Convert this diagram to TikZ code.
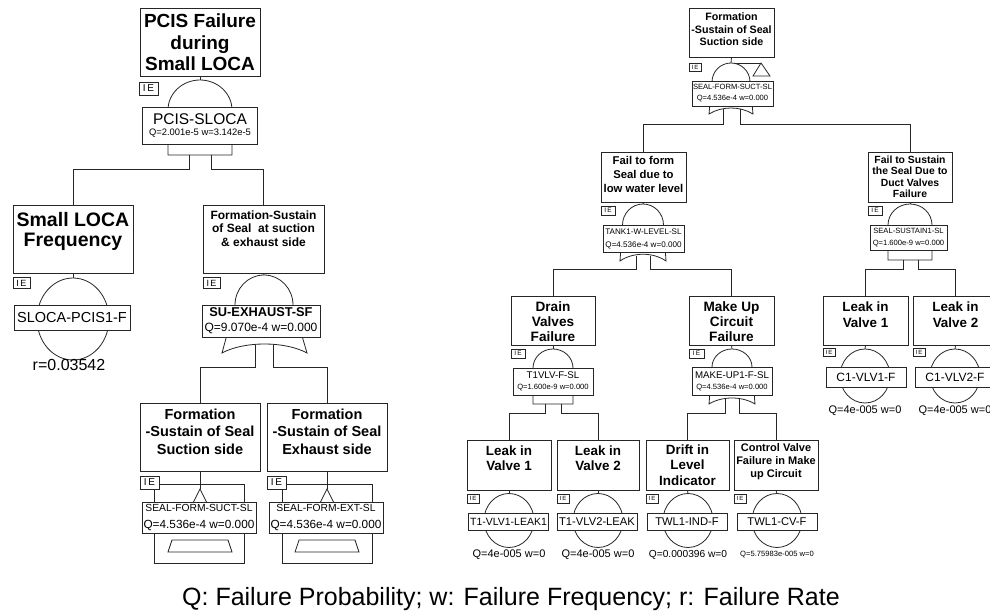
\documentclass[tikz,border=0pt]{standalone}
\usepackage{fontspec}
\setmainfont{Liberation Sans}
\usetikzlibrary{positioning}

\begin{document}
\begin{tikzpicture}[
			x=1pt, y=-1pt,
			evbox/.style={draw=black!85, line width=0.9pt, inner sep=0pt},
			ttl/.style={align=center, inner sep=0pt},
			idbox/.style={draw=black!85, line width=0.9pt, fill=white, align=center, inner sep=0pt},
			iebox/.style={draw=black!85, line width=0.7pt, fill=white, inner sep=0pt},
			gate/.style={draw=black!85, line width=0.8pt, fill=white},
			link/.style={draw=black!85, line width=0.8pt},
			qtext/.style={inner sep=0pt}
			]
			\useasboundingbox (0,0) rectangle (990,612);
			\clip (0,0) rectangle (990,612);
			
			% ---- Left tree: boxes ----
			\node[evbox, minimum width=120, minimum height=68] (pcis) at (200,42) {};
			\node[evbox, minimum width=120, minimum height=68] (slf) at (73,239) {};
			\node[evbox, minimum width=121, minimum height=68] (fss) at (263.5,239) {};
			\node[evbox, minimum width=120, minimum height=68] (fsuct) at (200,437) {};
			\node[evbox, minimum width=120, minimum height=68] (fexh) at (327,437) {};
			
			\node[ttl, font=\bfseries\fontsize{19}{21.7}\selectfont, below=6pt of pcis.north] (pcistx)
			{PCIS Failure\\during\\Small LOCA};
			\node[ttl, font=\bfseries\fontsize{19.5}{20}\selectfont, below=8pt of slf.north] (slftx)
			{Small LOCA\\Frequency};
			\node[ttl, font=\bfseries\fontsize{12}{13.3}\selectfont, below=6pt of fss.north] (fsstx)
			{Formation-Sustain\\of Seal\ \ at suction\\\& exhaust side};
			\node[ttl, font=\bfseries\fontsize{14.5}{17.5}\selectfont, below=6pt of fsuct.north] (fsucttx)
			{Formation\\-Sustain of Seal\\Suction side};
			\node[ttl, font=\bfseries\fontsize{14.5}{17.5}\selectfont, below=6pt of fexh.north] (fexhtx)
			{Formation\\-Sustain of Seal\\Exhaust side};
			
			% ---- Left tree: gates ----
			\coordinate (pcisg) at (200,80);
			\coordinate (slfg) at (73,278);
			\coordinate (fssg) at (264,275);
			\coordinate (fsuctg) at (200,489);
			\coordinate (fexhg) at (327,489);
			\draw[link] (pcis.south) -- (pcisg);
			\draw[link] (slf.south) -- (slfg);
			\draw[link] (fss.south) -- (fssg);
			\draw[link] (fsuct.south) -- (fsuctg);
			\draw[link] (fexh.south) -- (fexhg);
			
			\draw[gate] (168,155) -- (168,110) arc[start angle=180, end angle=360, x radius=32, y radius=30] -- (232,155) -- cycle;
			\draw[gate] (73,319) ellipse[x radius=36, y radius=41];
			\draw[gate] (222,353) -- (235,305) arc[start angle=180, end angle=360, x radius=29, y radius=30]
			-- (307,353) .. controls (285,341) and (244,341) .. (222,353) -- cycle;
			\draw[link] (154,484) rectangle (244,563);
			\draw[gate] (fsuctg) -- (193,503) -- (207,503) -- cycle;
			\draw[gate] (172,540) -- (228,540) -- (232,552) -- (168,552) -- cycle;
			\draw[link] (282,484) rectangle (372,563);
			\draw[gate] (fexhg) -- (320,503) -- (334,503) -- cycle;
			\draw[gate] (299,540) -- (355,540) -- (359,552) -- (295,552) -- cycle;
			
			% ---- Left tree: ids ----
			\node[idbox, minimum width=115, minimum height=37, font=\fontsize{9.4}{11}\selectfont] (pcisid) at (200,125.5)
			{{\fontsize{15.5}{16}\selectfont PCIS-SLOCA}\\Q=2.001e-5 w=3.142e-5};
			\node[idbox, minimum width=116, minimum height=25, font=\fontsize{14.5}{15}\selectfont] (slfid) at (72,317.5)
			{SLOCA-PCIS1-F};
			\node[idbox, minimum width=118, minimum height=32, font=\fontsize{12}{15}\selectfont] (fssid) at (261,321)
			{{\bfseries\fontsize{12.8}{13}\selectfont SU-EXHAUST-SF}\\Q=9.070e-4 w=0.000};
			\node[idbox, minimum width=114, minimum height=31, font=\fontsize{11.8}{17}\selectfont] (fsuctid) at (199,517.5)
			{{\fontsize{10.3}{11}\selectfont SEAL-FORM-SUCT-SL}\\Q=4.536e-4 w=0.000};
			\node[idbox, minimum width=114, minimum height=31, font=\fontsize{11.8}{17}\selectfont] (fexhid) at (326,517.5)
			{{\fontsize{10.3}{11}\selectfont SEAL-FORM-EXT-SL}\\Q=4.536e-4 w=0.000};
			\node[qtext, font=\fontsize{16}{16}\selectfont] (slfq) at (69,365) {r=0.03542};
			
			\node[iebox, minimum width=19, minimum height=13, font=\fontsize{10}{10}\selectfont] (pcisie) at (148.5,88.5) {I\,E};
			\node[iebox, minimum width=17, minimum height=11, font=\fontsize{9}{9}\selectfont] (slfie) at (21.5,283) {I\,E};
			\node[iebox, minimum width=17, minimum height=11, font=\fontsize{9}{9}\selectfont] (fssie) at (211.5,283) {I\,E};
			\node[iebox, minimum width=19, minimum height=13, font=\fontsize{10}{10}\selectfont] (fsuctie) at (149.5,482.5) {I\,E};
			\node[iebox, minimum width=19, minimum height=13, font=\fontsize{10}{10}\selectfont] (fexhie) at (276.5,482.5) {I\,E};
			
			% ---- Left tree: connectors ----
			\coordinate (pcisa) at (189,155);
			\coordinate (pcisb) at (211,155);
			\coordinate (fssa) at (255,345);
			\coordinate (fssb) at (273,345);
			\draw[link] (pcisa) -- ++(0,14) -| (slf.north);
			\draw[link] (pcisb) -- ++(0,14) -| (fss.north);
			\draw[link] (fssa) -- ++(0,22) -| (fsuct.north);
			\draw[link] (fssb) -- ++(0,22) -| (fexh.north);
			
			% ---- Right tree: boxes ----
			\node[evbox, minimum width=85, minimum height=49] (rtop) at (731.5,32.5) {};
			\node[evbox, minimum width=85, minimum height=50] (ffw) at (643.5,177) {};
			\node[evbox, minimum width=84, minimum height=50] (fsd) at (910,177) {};
			\node[evbox, minimum width=84, minimum height=49] (drain) at (553,320.5) {};
			\node[evbox, minimum width=85, minimum height=49] (makeup) at (731.5,320.5) {};
			\node[evbox, minimum width=85, minimum height=49] (lv1r) at (865.5,320.5) {};
			\node[evbox, minimum width=85, minimum height=49] (lv2r) at (955.5,320.5) {};
			\node[evbox, minimum width=84, minimum height=50] (lv1b) at (509,465) {};
			\node[evbox, minimum width=82, minimum height=50] (lv2b) at (598,465) {};
			\node[evbox, minimum width=83, minimum height=50] (drift) at (687.5,465) {};
			\node[evbox, minimum width=84, minimum height=50] (cv) at (776,465) {};
			
			\node[ttl, font=\bfseries\fontsize{10.7}{12.7}\selectfont, below=5pt of rtop.north] (rtoptx)
			{Formation\\-Sustain of Seal\\Suction side};
			\node[ttl, font=\bfseries\fontsize{11.3}{14}\selectfont, below=5pt of ffw.north] (ffwtx)
			{Fail to form\\Seal due to\\low water level};
			\node[ttl, font=\bfseries\fontsize{10.4}{11.5}\selectfont, below=4pt of fsd.north] (fsdtx)
			{Fail to Sustain\\the Seal Due to\\Duct Valves\\Failure};
			\node[ttl, font=\bfseries\fontsize{13.6}{15}\selectfont, below=6pt of drain.north] (draintx)
			{Drain\\Valves\\Failure};
			\node[ttl, font=\bfseries\fontsize{13.6}{15}\selectfont, below=6pt of makeup.north] (makeuptx)
			{Make Up\\Circuit\\Failure};
			\node[ttl, font=\bfseries\fontsize{13.4}{16}\selectfont, below=6pt of lv1r.north] (lv1rtx)
			{Leak in\\Valve 1};
			\node[ttl, font=\bfseries\fontsize{13.4}{16}\selectfont, below=6pt of lv2r.north] (lv2rtx)
			{Leak in\\Valve 2};
			\node[ttl, font=\bfseries\fontsize{13.4}{15}\selectfont, below=6pt of lv1b.north] (lv1btx)
			{Leak in\\Valve 1};
			\node[ttl, font=\bfseries\fontsize{13.4}{15}\selectfont, below=6pt of lv2b.north] (lv2btx)
			{Leak in\\Valve 2};
			\node[ttl, font=\bfseries\fontsize{13.4}{15.5}\selectfont, below=5pt of drift.north] (drifttx)
			{Drift in\\Level\\Indicator};
			\node[ttl, font=\bfseries\fontsize{11}{13}\selectfont, below=4pt of cv.north] (cvtx)
			{Control Valve\\Failure in Make\\up Circuit};
			
			% ---- Right tree: gates ----
			\coordinate (rtopg) at (731,63);
			\coordinate (rtopt) at (761,63);
			\coordinate (ffwg) at (643,204);
			\coordinate (fsdg) at (910,204);
			\coordinate (draing) at (553,349);
			\coordinate (makeupg) at (732,349);
			\coordinate (lv1rg) at (865,349);
			\coordinate (lv2rg) at (955,349);
			\coordinate (lv1bg) at (509,493.5);
			\coordinate (lv2bg) at (598,493.5);
			\coordinate (driftg) at (688,493.5);
			\coordinate (cvg) at (777,493.5);
			\foreach \n in {rtop,ffw,fsd,drain,makeup,lv1r,lv2r,lv1b,lv2b,drift,cv}
			\draw[link] (\n.south) -- (\n g);
			\draw[link] (rtopg) -- (rtopt);
			
			\draw[gate] (709,114) -- (712,82) arc[start angle=180, end angle=360, x radius=19, y radius=19]
			-- (753,114) .. controls (740,106) and (722,106) .. (709,114) -- cycle;
			\draw[gate] (rtopt) -- (770,76) -- (753,76) -- cycle;
			\draw[gate] (620,261) -- (622.5,225) arc[start angle=180, end angle=360, x radius=20.5, y radius=21]
			-- (666,261) .. controls (653,252) and (633,252) .. (620,261) -- cycle;
			\draw[gate] (888,260) -- (888,225) arc[start angle=180, end angle=360, x radius=22, y radius=21] -- (932,260) -- cycle;
			\draw[gate] (533,404) -- (533,368) arc[start angle=180, end angle=360, x radius=20, y radius=19] -- (573,404) -- cycle;
			\draw[gate] (709,404) -- (712,367) arc[start angle=180, end angle=360, x radius=20, y radius=18]
			-- (755,404) .. controls (742,396) and (722,396) .. (709,404) -- cycle;
			\draw[gate] (865,376) ellipse[x radius=25, y radius=27];
			\draw[gate] (955,376) ellipse[x radius=25, y radius=27];
			\foreach \cx in {509,598,688,777}
			\draw[gate] (\cx,520.5) ellipse[x radius=25, y radius=27];
			
			% ---- Right tree: ids ----
			\node[idbox, minimum width=81, minimum height=25, font=\fontsize{7.6}{11}\selectfont] (rtopid) at (732.5,93.5)
			{SEAL-FORM-SUCT-SL\\Q=4.536e-4 w=0.000};
			\node[idbox, minimum width=81, minimum height=27, font=\fontsize{8.1}{13}\selectfont] (ffwid) at (643.5,238.5)
			{TANK1-W-LEVEL-SL\\Q=4.536e-4 w=0.000};
			\node[idbox, minimum width=77, minimum height=25, font=\fontsize{7.6}{12}\selectfont] (fsdid) at (908.5,237.5)
			{SEAL-SUSTAIN1-SL\\Q=1.600e-9 w=0.000};
			\node[idbox, minimum width=80, minimum height=27, font=\fontsize{7.6}{11}\selectfont] (drainid) at (553,381.5)
			{{\fontsize{9.7}{10}\selectfont T1VLV-F-SL}\\Q=1.600e-9 w=0.000};
			\node[idbox, minimum width=80, minimum height=28, font=\fontsize{7.6}{11}\selectfont] (makeupid) at (732,381)
			{{\fontsize{9.7}{10}\selectfont MAKE-UP1-F-SL}\\Q=4.536e-4 w=0.000};
			\node[idbox, minimum width=80, minimum height=20, font=\fontsize{12}{12}\selectfont] (lv1rid) at (866,377) {C1-VLV1-F};
			\node[idbox, minimum width=80, minimum height=20, font=\fontsize{12}{12}\selectfont] (lv2rid) at (955,377) {C1-VLV2-F};
			\node[idbox, minimum width=80, minimum height=17, font=\fontsize{10.5}{11}\selectfont] (lv1bid) at (508.5,521.5) {T1-VLV1-LEAK1};
			\node[idbox, minimum width=80, minimum height=17, font=\fontsize{11.2}{11}\selectfont] (lv2bid) at (597,521.5) {T1-VLV2-LEAK};
			\node[idbox, minimum width=80, minimum height=17, font=\fontsize{11.2}{11}\selectfont] (driftid) at (687,521.5) {TWL1-IND-F};
			\node[idbox, minimum width=80, minimum height=17, font=\fontsize{11.2}{11}\selectfont] (cvid) at (777,521.5) {TWL1-CV-F};
			
			\node[qtext, font=\fontsize{11}{11}\selectfont] (lv1rq) at (865,411) {Q=4e-005 w=0};
			\node[qtext, font=\fontsize{11}{11}\selectfont] (lv2rq) at (955,411) {Q=4e-005 w=0};
			\node[qtext, font=\fontsize{11}{11}\selectfont] (lv1bq) at (509,555) {Q=4e-005 w=0};
			\node[qtext, font=\fontsize{11}{11}\selectfont] (lv2bq) at (598,555) {Q=4e-005 w=0};
			\node[qtext, font=\fontsize{10.2}{11}\selectfont] (driftq) at (688,555) {Q=0.000396 w=0};
			\node[qtext, font=\fontsize{7.6}{8}\selectfont] (cvq) at (777,555) {Q=5.75983e-005 w=0};
			
			\node[iebox, minimum width=12, minimum height=8, font=\fontsize{6}{6}\selectfont] (rtopie) at (695,67) {I\,E};
			\node[iebox, minimum width=14, minimum height=9, font=\fontsize{6.5}{6.5}\selectfont] (ffwie) at (608,210.5) {I\,E};
			\node[iebox, minimum width=14, minimum height=9, font=\fontsize{6.5}{6.5}\selectfont] (fsdie) at (875,210.5) {I\,E};
			\node[iebox, minimum width=14, minimum height=9, font=\fontsize{6.5}{6.5}\selectfont] (drainie) at (518,353.5) {I\,E};
			\node[iebox, minimum width=15, minimum height=9, font=\fontsize{6.5}{6.5}\selectfont] (makeupie) at (696.5,353.5) {I\,E};
			\node[iebox, minimum width=12, minimum height=8, font=\fontsize{6}{6}\selectfont] (lv1rie) at (829,352) {I\,E};
			\node[iebox, minimum width=12, minimum height=8, font=\fontsize{6}{6}\selectfont] (lv2rie) at (919,352) {I\,E};
			\node[iebox, minimum width=12, minimum height=9, font=\fontsize{6}{6}\selectfont] (lv1bie) at (473,498.5) {I\,E};
			\node[iebox, minimum width=12, minimum height=9, font=\fontsize{6}{6}\selectfont] (lv2bie) at (563,498.5) {I\,E};
			\node[iebox, minimum width=12, minimum height=9, font=\fontsize{6}{6}\selectfont] (driftie) at (652,498.5) {I\,E};
			\node[iebox, minimum width=12, minimum height=9, font=\fontsize{6}{6}\selectfont] (cvie) at (740,498.5) {I\,E};
			
			% ---- Right tree: connectors ----
			\coordinate (rtopa) at (723,109);
			\coordinate (rtopb) at (740,109);
			\coordinate (ffwa) at (636,256);
			\coordinate (ffwb) at (650,256);
			\coordinate (fsda) at (903,260);
			\coordinate (fsdb) at (918,260);
			\coordinate (draina) at (545,404);
			\coordinate (drainb) at (561,404);
			\coordinate (makeupa) at (725,399);
			\coordinate (makeupb) at (739,399);
			\draw[link] (rtopa) -- ++(0,15) -| (ffw.north);
			\draw[link] (rtopb) -- ++(0,15) -| (fsd.north);
			\draw[link] (ffwa) -- ++(0,13) -| (drain.north);
			\draw[link] (ffwb) -- ++(0,13) -| (makeup.north);
			\draw[link] (fsda) -- ++(0,9) -| (lv1r.north);
			\draw[link] (fsdb) -- ++(0,9) -| (lv2r.north);
			\draw[link] (draina) -- ++(0,9) -| (lv1b.north);
			\draw[link] (drainb) -- ++(0,9) -| (lv2b.north);
			\draw[link] (makeupa) -- ++(0,14) -| (drift.north);
			\draw[link] (makeupb) -- ++(0,14) -| (cv.north);
			
			% ---- Caption ----
			\node[qtext, font=\fontsize{25}{25}\selectfont] (legend) at (511,599)
			{Q: Failure Probability; w: Failure Frequency; r: Failure Rate};
			
		\end{tikzpicture}
\end{document}
